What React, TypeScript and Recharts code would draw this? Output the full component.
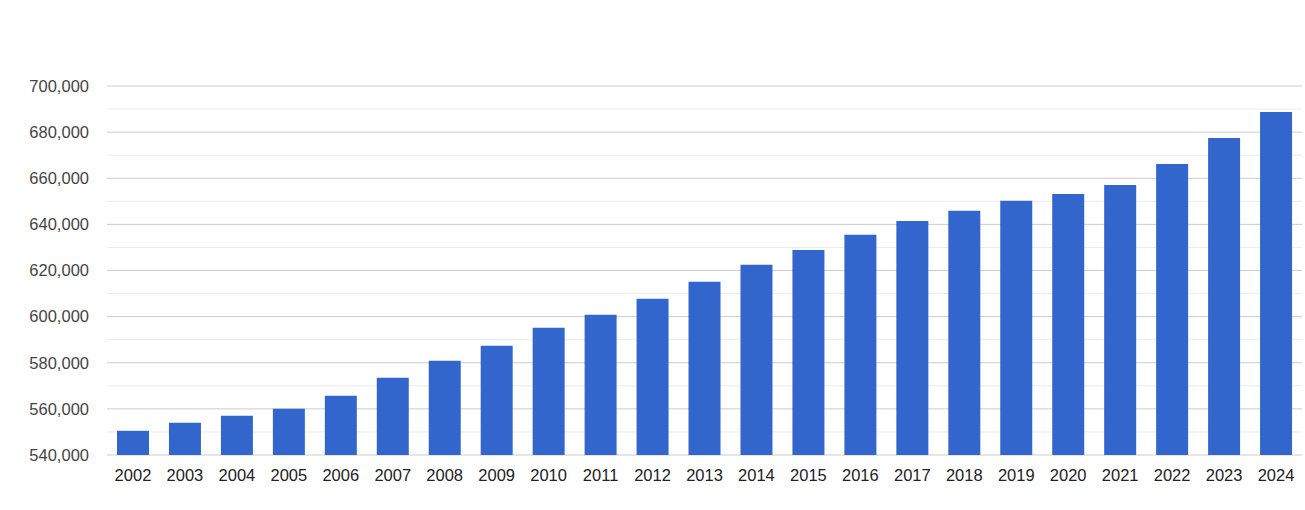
import React from 'react';
import { BarChart, Bar, XAxis, YAxis, CartesianGrid } from 'recharts';

const YEARS = [
  '2002', '2003', '2004', '2005', '2006', '2007', '2008', '2009', '2010', '2011', '2012', '2013',
  '2014', '2015', '2016', '2017', '2018', '2019', '2020', '2021', '2022', '2023', '2024',
];

const POPULATION = [
  550500, 554000, 557000, 560100, 565700, 573500, 580900, 587400, 595200, 600800, 607700, 615100,
  622500, 628900, 635500, 641500, 645900, 650200, 653200, 657100, 666200, 677500, 688700,
];

const Y_TICKS = [540000, 560000, 580000, 600000, 620000, 640000, 660000, 680000, 700000];
const MINOR_LINES = [550000, 570000, 590000, 610000, 630000, 650000, 670000, 690000];

const chartData = YEARS.map((year, i) => ({ year, value: POPULATION[i] }));

const FONT = 'Arial, "Liberation Sans", sans-serif';

export default function App() {
  return (
    <div style={{ position: 'absolute', left: 0, top: 0, width: 1305, height: 510, background: '#fff' }}>
      <BarChart
        width={1305}
        height={510}
        data={chartData}
        margin={{ top: 86, right: 3, bottom: 0, left: 0 }}
        barCategoryGap={10}
      >
        <CartesianGrid vertical={false} horizontalValues={MINOR_LINES} stroke="#ebebeb" strokeWidth={1} />
        <CartesianGrid vertical={false} horizontalValues={Y_TICKS} stroke="#cccccc" strokeWidth={1} />
        <XAxis
          dataKey="year"
          height={55}
          axisLine={false}
          tickLine={false}
          tickSize={0}
          tickMargin={14}
          interval={0}
          tick={{ fill: '#222222', fontSize: 16.5, fontFamily: FONT }}
        />
        <YAxis
          type="number"
          domain={[540000, 700000]}
          ticks={Y_TICKS}
          width={107}
          axisLine={false}
          tickLine={false}
          tickSize={0}
          tickMargin={18}
          allowDataOverflow
          tickFormatter={(v: number) => v.toLocaleString('en-US')}
          tick={{ fill: '#444444', fontSize: 16.5, fontFamily: FONT }}
        />
        <Bar dataKey="value" fill="#3366cc" barSize={32} isAnimationActive={false} />
      </BarChart>
    </div>
  );
}
